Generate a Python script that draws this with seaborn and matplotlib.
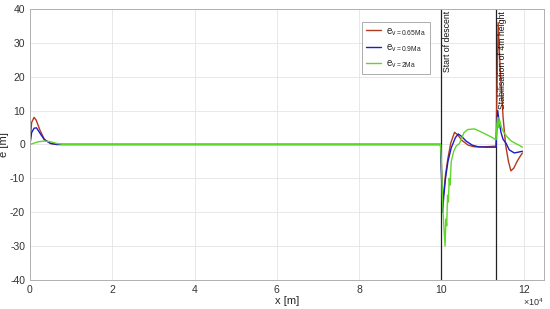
import matplotlib
matplotlib.use("Agg")
import matplotlib.pyplot as plt
import pandas as pd
import seaborn as sns
from matplotlib.ticker import FuncFormatter, MultipleLocator

# series, x in metres, e in metres
red_x = [0, 400, 1000, 1500, 2500, 3500, 5000, 6500, 10000, 99800, 100000, 100250,
         100600, 101000, 101600, 102300, 103200, 104000, 105000, 106500, 108000,
         110000, 112000, 113300, 113500, 113800, 114300, 115000, 115600, 116300,
         116900, 117600, 118400, 119200, 119700]
red_y = [0, 6.5, 8.0, 7.2, 4.0, 1.5, 0.3, 0, 0, 0, -6, -17,
         -14, -9, -4, 0.5, 3.6, 2.8, 1.2, -0.2, -0.7,
         -0.7, -0.6, -0.5, 15, 36, 22, 8, 0, -5,
         -7.8, -7, -5, -3.4, -2.5]

blue_x = [0, 400, 1000, 1600, 2500, 3500, 5000, 6500, 10000, 99800, 100000, 100300,
          100600, 101000, 101600, 102400, 103400, 104100, 105000, 106000, 107500,
          109000, 111000, 113300, 113500, 113700, 114000, 114500, 115000, 115700,
          116500, 117700, 118600, 119700]
blue_y = [0, 3.5, 4.8, 4.9, 3.2, 1.4, 0.3, 0, 0, 0, -8, -20,
          -15, -10, -5, -1, 2.0, 3.1, 2.3, 1.0, -0.2,
          -0.7, -0.8, -0.8, 6, 10, 7, 3.5, 1.5, 0.4,
          -1.6, -2.5, -2.3, -2.0]

green_x = [0, 1000, 2000, 3500, 5000, 6500, 8000, 10000, 99800, 100000, 100400,
           100900, 101100, 101300, 101500, 101700, 101900, 102100, 102400, 103000,
           103600, 104400, 105500, 106400, 108000, 109500, 111000, 112300, 113200,
           113300, 113500, 113700, 113900, 114200, 114600, 115200, 116000, 117000,
           118000, 119000, 119700]
green_y = [0, 0.4, 0.8, 1.0, 0.8, 0.3, 0, 0, 0, -5, -20,
           -30, -22, -24, -15, -17, -10, -12, -5, -2,
           -0.5, 0.3, 3.5, 4.4, 4.6, 3.8, 2.9, 2.1, 1.4,
           1.4, 6, 8, 5, 7, 5, 3.5, 2.2, 1.0,
           0.3, -0.3, -0.8]

labels = [r"e$_{v=0.65Ma}$", r"e$_{v=0.9Ma}$", r"e$_{v=2Ma}$"]
colors = ["#b23a1c", "#1c1cc8", "#5fd62a"]
events_x = [100000, 113300]
events_text = ["Start of descent", "Stabilisation of 4m height"]
x_ticks = [0, 20000, 40000, 60000, 80000, 100000, 120000]

df = pd.concat([
    pd.DataFrame({"x": red_x, "e": red_y, "series": labels[0]}),
    pd.DataFrame({"x": blue_x, "e": blue_y, "series": labels[1]}),
    pd.DataFrame({"x": green_x, "e": green_y, "series": labels[2]}),
], ignore_index=True)

sns.set_style("whitegrid")
plt.rcParams["font.family"] = ["Liberation Sans", "DejaVu Sans"]
plt.rcParams["mathtext.fontset"] = "custom"
plt.rcParams["mathtext.rm"] = "Liberation Sans"
plt.rcParams["mathtext.it"] = "Liberation Sans"
plt.rcParams["axes.unicode_minus"] = False

fig = plt.figure(figsize=(5.5, 3.09), dpi=100)
ax = fig.add_axes([0.0545, 0.094, 0.935, 0.877])

sns.lineplot(data=df, x="x", y="e", hue="series", palette=colors,
             estimator=None, sort=False, linewidth=1.0, ax=ax)

for xv, txt in zip(events_x, events_text):
    ax.axvline(xv, color="#222222", linewidth=0.9, zorder=1)
    ax.text(xv + 500, 39.3, txt, rotation=90, ha="left", va="top",
            fontsize=6.3, color="#111111")

ax.set_xlim(0, 125000)
ax.set_ylim(-40, 40)
ax.set_xticks(x_ticks)
ax.xaxis.set_major_formatter(FuncFormatter(lambda v, p: f"{v / 1e4:g}"))
ax.yaxis.set_major_locator(MultipleLocator(10))
ax.tick_params(labelsize=7.5, colors="#333333", length=2, pad=1.5)
ax.grid(True, color="#e4e4e4", linewidth=0.6)
for s in ax.spines.values():
    s.set_color("#b0b0b0")
    s.set_linewidth(0.7)

ax.set_xlabel("x [m]", fontsize=8, labelpad=1)
ax.set_ylabel("e [m]", fontsize=8, labelpad=1)
ax.text(1.0, -0.062, r"$\times10^4$", transform=ax.transAxes, ha="right",
        va="top", fontsize=6.5, color="#333333")

leg = ax.legend(loc="upper left", bbox_to_anchor=(0.646, 0.952), fontsize=7,
                frameon=True, fancybox=False, handlelength=1.5, borderpad=0.4,
                labelspacing=0.45, handletextpad=0.6, borderaxespad=0)
leg.get_frame().set_edgecolor("#888888")
leg.get_frame().set_linewidth(0.6)

fig.savefig("out.png", dpi=100)
